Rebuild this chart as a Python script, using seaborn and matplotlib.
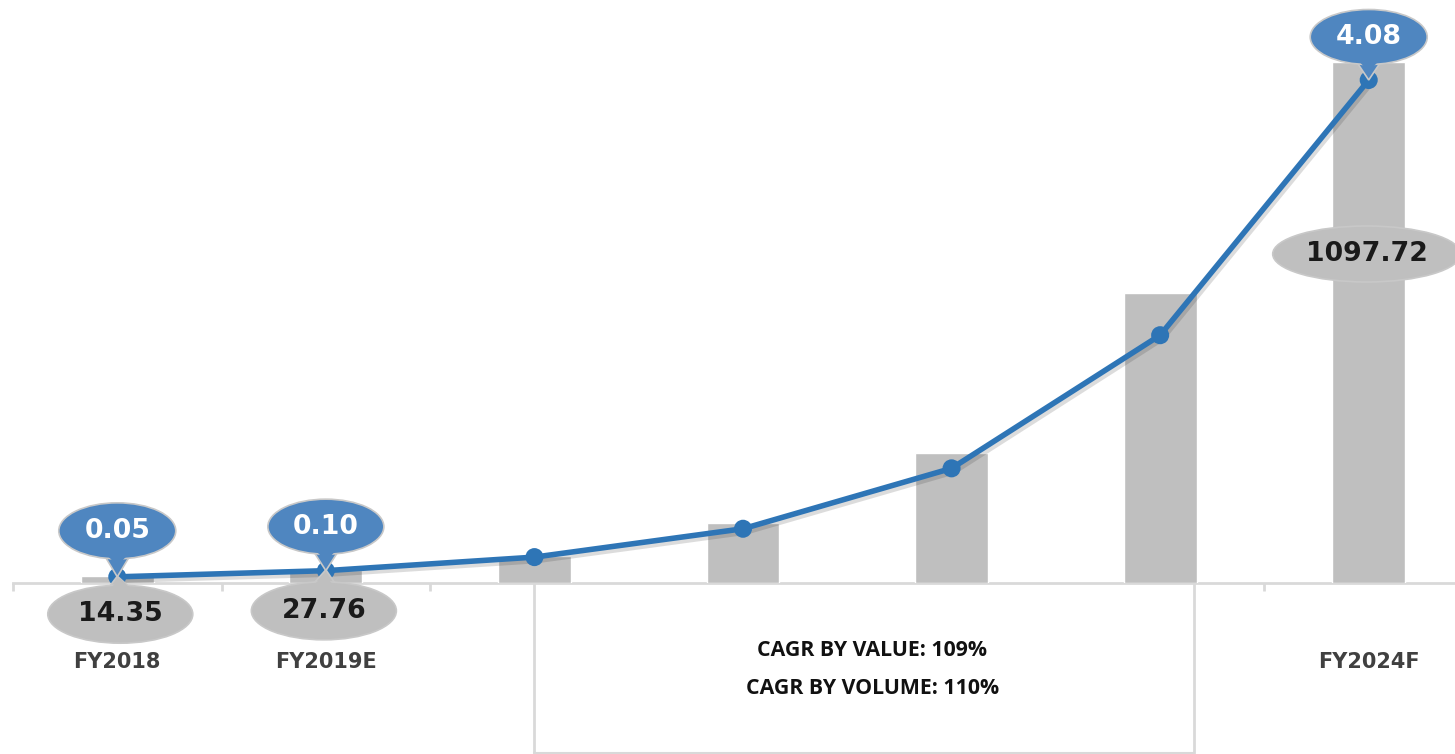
import matplotlib
matplotlib.use("Agg")
import matplotlib.pyplot as plt
import matplotlib.patches as mpatches
import matplotlib.transforms as mtrans
import matplotlib.patheffects as pe
import seaborn as sns
import pandas as pd

# ---- data ----
categories = ["FY2018", "FY2019E", "FY2020F", "FY2021F", "FY2022F", "FY2023F", "FY2024F"]
tick_labels = ["FY2018", "FY2019E", "", "", "", "", "FY2024F"]
market_value = [14.35, 27.76, 57, 126, 274, 611, 1097.72]   # bars
market_volume = [0.05, 0.10, 0.21, 0.44, 0.93, 2.01, 4.08]   # line
value_labels = {0: "14.35", 1: "27.76", 6: "1097.72"}
volume_labels = {0: "0.05", 1: "0.10", 6: "4.08"}
cagr_lines = ["CAGR BY VALUE: 109%", "CAGR BY VOLUME: 110%"]

BAR_C = "#bfbfbf"
LINE_C = "#2e75b6"
CALL_BLUE = "#4f86c0"
AXIS_C = "#d9d9d9"
FONT = "DejaVu Sans"

sns.set_theme(style="white")
plt.rcParams["font.family"] = [FONT]

fig = plt.figure(figsize=(14.55, 7.54), dpi=100)
ax = fig.add_axes([13/1455, 171/754, 1460/1455, 583/754])
ax.set_facecolor("none")

df = pd.DataFrame({"cat": categories, "value": market_value,
                   "pos": range(len(categories)), "vol": market_volume})
sns.barplot(data=df, x="cat", y="value", order=categories, color=BAR_C, saturation=1,
            width=0.35, ax=ax, zorder=2)
ax.set_ylim(0, 1097.72 * 583 / 521)
ax.set_xlim(-0.5, 6.5)

ax2 = ax.twinx()
sns.lineplot(data=df, x="pos", y="vol", ax=ax2, color=LINE_C,
             linewidth=4, marker="o", markersize=13, markeredgewidth=0, zorder=3,
             path_effects=[pe.SimpleLineShadow(offset=(1.5, -2.5), alpha=0.15), pe.Normal()])
ax2.set_ylim(0, 4.08 * 583 / 503)
ax2.set_xlim(-0.5, 6.5)

for a in (ax, ax2):
    a.set_ylabel("")
    a.set_xlabel("")
    a.set_yticks([])
    for s in ("top", "left", "right"):
        a.spines[s].set_visible(False)
ax2.spines["bottom"].set_visible(False)
ax.spines["bottom"].set_color(AXIS_C)
ax.spines["bottom"].set_linewidth(2)
ax.spines["bottom"].set_zorder(1)

ax.set_xticks(range(len(categories)))
ax.set_xticklabels(tick_labels, fontsize=15, fontweight="bold", color="#404040", family=FONT)
ax.tick_params(axis="x", which="major", length=0, pad=50)
ax.set_xticks([-0.5, 0.5, 1.5, 5.5], minor=True)
ax.tick_params(axis="x", which="minor", length=6, width=2, color=AXIS_C, bottom=True)

# box lines below axis for the CAGR group
bt = mtrans.blended_transform_factory(ax.transData, ax.transAxes)
yb = -171/583
for xv in (2.0, 5.16):
    ax.plot([xv, xv], [0, yb + 0.002], color=AXIS_C, lw=2, transform=bt, clip_on=False, zorder=1)
ax.plot([2.0, 5.16], [yb + 0.002, yb + 0.002], color=AXIS_C, lw=1.5, transform=bt, clip_on=False, zorder=1)
ax.text(3.62, -67/583, cagr_lines[0], transform=bt, ha="center", va="center",
        fontsize=15.3, fontweight="bold", family="Open Sans", color="#111111")
ax.text(3.62, -105/583, cagr_lines[1], transform=bt, ha="center", va="center",
        fontsize=15.3, fontweight="bold", family="Open Sans", color="#111111")


def callout(axis_for_data, x, y, dx, dy, w, h, face, text, tcolor, tail=True, z=5):
    """Ellipse callout; offsets/sizes given in pixels relative to a data point."""
    tr = fig.dpi_scale_trans + mtrans.ScaledTranslation(x, y, axis_for_data.transData)
    p = 1 / 100.0
    edge = "#c8c8c8"
    if tail:
        sgn = 1 if dy > 0 else -1
        base_y = dy - sgn * (h / 2 - 7)
        tri = [(0, 0), (dx - 15, base_y), (dx + 15, base_y)]
        tri = [(a * p, b * p) for a, b in tri]
        ax2.add_patch(mpatches.Polygon(tri, closed=True, facecolor=face, edgecolor=edge, lw=1.2,
                                       transform=tr, clip_on=False, zorder=z))
    ax2.add_patch(mpatches.Ellipse((dx * p, dy * p), w * p, h * p, facecolor=face, edgecolor=edge,
                                   lw=1.2, transform=tr, clip_on=False, zorder=z + 0.1))
    if tail:
        tri2 = [(dx - 14, base_y + sgn * 0.6), (dx + 14, base_y + sgn * 0.6), (dx, base_y - sgn * 14)]
        tri2 = [(a * p, b * p) for a, b in tri2]
        ax2.add_patch(mpatches.Polygon(tri2, closed=True, facecolor=face, edgecolor="none",
                                       transform=tr, clip_on=False, zorder=z + 0.2))
    ax2.text(dx * p, dy * p, text, transform=tr, ha="center", va="center", fontsize=19.3,
             fontweight="bold", family=FONT, color=tcolor, zorder=z + 0.3, clip_on=False)


# gray bar-value callouts (below the line)
callout(ax, 0, market_value[0], 3, -38, 145, 58, BAR_C, value_labels[0], "#1a1a1a", z=4)
callout(ax, 1, market_value[1], -2, -41, 145, 58, BAR_C, value_labels[1], "#1a1a1a", z=4)
callout(ax, 6, market_value[6], -2, -192, 188, 56, BAR_C, value_labels[6], "#1a1a1a", tail=False, z=4)
# blue volume callouts
callout(ax2, 0, market_volume[0], 0, 46, 117, 56, CALL_BLUE, volume_labels[0], "white", z=6)
callout(ax2, 1, market_volume[1], 0, 44, 116, 55, CALL_BLUE, volume_labels[1], "white", z=6)
callout(ax2, 6, market_volume[6], 0, 43, 117, 55, CALL_BLUE, volume_labels[6], "white", z=6)

fig.savefig("out.png", dpi=100)
